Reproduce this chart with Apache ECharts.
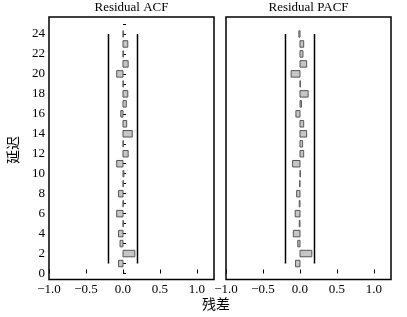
<!DOCTYPE html>
<html>
<head>
<meta charset="utf-8">
<script src="https://cdn.jsdelivr.net/npm/echarts@6/dist/echarts.min.js"></script>
<style>
html, body { margin: 0; padding: 0; background: #fff; }
#chart { width: 407px; height: 317px; }
</style>
</head>
<body>
<div id="chart"></div>
<script>
// 滞后阶数与残差自相关 / 偏自相关
const lags = [1, 2, 3, 4, 5, 6, 7, 8, 9, 10, 11, 12, 13, 14, 15, 16, 17, 18, 19, 20, 21, 22, 23, 24]
const acf = [-0.06, 0.16, -0.04, -0.06, 0.004, -0.085, 0.004, -0.06, 0.004, 0.012, -0.085, 0.07,
  0.004, 0.125, 0.05, -0.03, 0.045, 0.065, 0.004, -0.085, 0.07, 0.004, 0.065, 0.004]
const pacf = [-0.06, 0.16, -0.03, -0.09, -0.01, -0.065, -0.01, -0.045, -0.005, 0.005, -0.1, 0.05,
  0.035, 0.09, 0.05, -0.055, 0.02, 0.11, 0.005, -0.12, 0.09, 0.04, 0.05, -0.015]
const confBound = 0.196
const panelTitles = ['Residual ACF', 'Residual PACF']
const xLabel = '残差'
const yLabel = '延迟'

const SERIF = '"Liberation Serif", "DejaVu Serif", serif'
const CJK = '"Noto Sans CJK SC", sans-serif'

function fmtX(v) {
  if (Math.abs(v) < 1e-9) return '0.0'
  return v.toFixed(1).replace('-', '\u2212')
}

// 横向条形: 用坐标系换算, 高度取 0.65 个滞后单位
function barItem(params, api) {
  const val = api.value(0)
  const lag = api.value(1)
  const p0 = api.coord([0, lag])
  const p1 = api.coord([val, lag])
  const h = api.size([0, 0.65])[1]
  return {
    type: 'rect',
    shape: { x: Math.min(p0[0], p1[0]), y: p0[1] - h / 2, width: Math.abs(p1[0] - p0[0]), height: h },
    style: { fill: '#c6c6c6', stroke: '#555', lineWidth: 1 }
  }
}

function confLines(idx) {
  const first = lags[0], last = lags[lags.length - 1]
  return [confBound, -confBound].map(b => ({
    type: 'line',
    xAxisIndex: idx, yAxisIndex: idx,
    data: [[b, first], [b, last]],
    symbol: 'none',
    silent: true,
    lineStyle: { color: '#000', width: 1.5 }
  }))
}

const grids = [
  { left: 49, top: 17, width: 165, height: 262.5 },
  { left: 226, top: 17, width: 165, height: 262.5 }
].map(g => Object.assign(g, { show: true, borderColor: '#000', borderWidth: 1.5, backgroundColor: 'transparent' }))

const xAxes = [0, 1].map(i => ({
  type: 'value', gridIndex: i, min: -1, max: 1.23, interval: 0.5,
  axisLine: { show: false },
  axisTick: { show: true, inside: true, length: 4, lineStyle: { color: '#000' } },
  splitLine: { show: false },
  axisLabel: { showMaxLabel: false, formatter: fmtX, color: '#000', fontFamily: SERIF, fontSize: 13, margin: 4 }
}))

const yAxes = [0, 1].map(i => ({
  type: 'value', gridIndex: i, min: -0.6, max: 25.7, splitNumber: 26,
  axisLine: { show: false },
  axisTick: { show: i === 0, inside: true, length: 3, lineStyle: { color: '#000' } },
  splitLine: { show: false },
  axisLabel: {
    show: i === 0, showMinLabel: false, showMaxLabel: false,
    formatter: v => (Number.isInteger(v) && v % 2 === 0 ? String(v) : ''),
    color: '#000', fontFamily: SERIF, fontSize: 13, margin: 4
  }
}))

const series = []
;[acf, pacf].forEach((vals, i) => {
  series.push(...confLines(i))
  series.push({
    type: 'custom',
    xAxisIndex: i, yAxisIndex: i,
    renderItem: barItem,
    encode: { x: 0, y: 1 },
    data: lags.map((l, k) => [vals[k], l])
  })
})

const titleStyle = { fontFamily: SERIF, fontSize: 13, fontWeight: 'normal', color: '#000' }

const chart = echarts.init(document.getElementById('chart'), null, { renderer: 'canvas' })
chart.setOption({
  animation: false,
  backgroundColor: '#fff',
  title: [
    { text: panelTitles[0], left: 131.5, top: 1, padding: 0, textAlign: 'center', textStyle: titleStyle },
    { text: panelTitles[1], left: 308.5, top: 1, padding: 0, textAlign: 'center', textStyle: titleStyle },
    { text: xLabel, left: 216, top: 297, padding: 0, textAlign: 'center',
      textStyle: { fontFamily: CJK, fontSize: 14, fontWeight: 'normal', color: '#000' } }
  ],
  graphic: [{
    type: 'text', x: 13, y: 150, rotation: Math.PI / 2,
    style: { text: yLabel, font: '14px ' + CJK, fill: '#000', align: 'center', verticalAlign: 'middle' }
  }],
  grid: grids,
  xAxis: xAxes,
  yAxis: yAxes,
  series
})
</script>
</body>
</html>
